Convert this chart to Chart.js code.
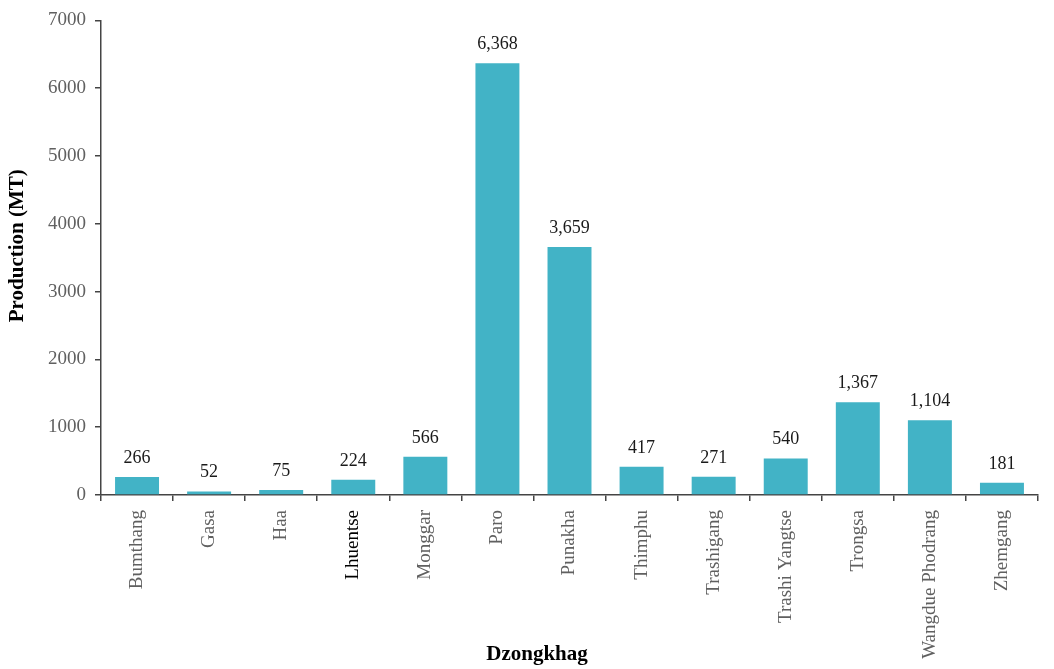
<!DOCTYPE html>
<html lang="en">
<head>
  <meta charset="UTF-8">
  <title>Production by Dzongkhag</title>
  <style>
    html, body { margin: 0; padding: 0; background: #fff; }
    #wrap { width: 1054px; height: 669px; position: relative; }
  </style>
  <script src="https://cdn.jsdelivr.net/npm/chart.js"></script>
</head>
<body>
  <div id="wrap"><canvas id="chart" width="1054" height="669"></canvas></div>
  <script>
    const dzongkhags = ['Bumthang', 'Gasa', 'Haa', 'Lhuentse', 'Monggar', 'Paro', 'Punakha',
      'Thimphu', 'Trashigang', 'Trashi Yangtse', 'Trongsa', 'Wangdue Phodrang', 'Zhemgang'];
    const production = [266, 52, 75, 224, 566, 6368, 3659, 417, 271, 540, 1367, 1104, 181];
    const yTicks = [0, 1000, 2000, 3000, 4000, 5000, 6000, 7000];

    const FONT = '"Liberation Serif", "Times New Roman", serif';

    // value labels above the bars + axis titles
    const labelsPlugin = {
      id: 'barLabels',
      afterDatasetsDraw(chart) {
        const ctx = chart.ctx;
        const meta = chart.getDatasetMeta(0);
        ctx.save();
        ctx.fillStyle = '#1a1a1a';
        ctx.font = '18px ' + FONT;
        ctx.textAlign = 'center';
        ctx.textBaseline = 'alphabetic';
        meta.data.forEach((bar, i) => {
          ctx.fillText(production[i].toLocaleString('en-US'), bar.x, bar.y - 14);
        });
        ctx.restore();
      },
      afterDraw(chart) {
        const ctx = chart.ctx;
        const area = chart.chartArea;
        ctx.save();
        ctx.fillStyle = '#000';
        ctx.font = 'bold 21px ' + FONT;
        ctx.textAlign = 'center';
        ctx.textBaseline = 'middle';
        ctx.fillText('Dzongkhag', 537, 655);
        ctx.translate(18, (area.top + area.bottom) / 2 - 12);
        ctx.rotate(-Math.PI / 2);
        ctx.fillText('Production (MT)', 0, 0);
        ctx.restore();
      }
    };

    new Chart(document.getElementById('chart'), {
      type: 'bar',
      data: {
        labels: dzongkhags,
        datasets: [{
          data: production,
          backgroundColor: '#42b3c6',
          borderWidth: 0,
          categoryPercentage: 1,
          barPercentage: 0.61
        }]
      },
      options: {
        responsive: false,
        animation: false,
        layout: { padding: { top: 19, right: 16, left: 0, bottom: 0 } },
        plugins: { legend: { display: false }, tooltip: { enabled: false } },
        scales: {
          x: {
            grid: { drawOnChartArea: false, tickLength: 6, color: '#444', lineWidth: 1.5 },
            border: { color: '#444', width: 1.5 },
            ticks: {
              minRotation: 90, maxRotation: 90, padding: 9, autoSkip: false,
              font: { family: FONT, size: 19 },
              color: (c) => c.index === 3 ? '#000' : '#606060'
            },
            afterFit(scale) { scale.height = 669 - 495; }
          },
          y: {
            min: 0, max: 7000,
            afterBuildTicks(scale) { scale.ticks = yTicks.map(v => ({ value: v })); },
            grid: { drawOnChartArea: false, tickLength: 6, color: '#444', lineWidth: 1.5 },
            border: { color: '#444', width: 1.5 },
            ticks: {
              padding: 9,
              font: { family: FONT, size: 19 },
              color: '#606060',
              callback: (v) => String(v)
            },
            afterFit(scale) { scale.width = 101; }
          }
        }
      },
      plugins: [labelsPlugin]
    });
  </script>
</body>
</html>
